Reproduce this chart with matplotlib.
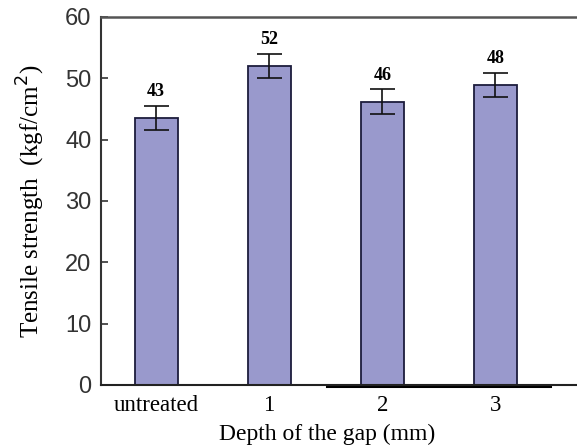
import matplotlib
matplotlib.use("Agg")
import matplotlib.pyplot as plt
import matplotlib.transforms as mtransforms
import numpy as np

# data
groups = ["untreated", "1", "2", "3"]
strength = [43.5, 52.0, 46.2, 48.9]
errors = [2.0, 2.0, 2.0, 2.0]
value_labels = ["43", "52", "46", "48"]

serif = ["Liberation Serif", "DejaVu Serif"]
sans = ["Liberation Sans", "DejaVu Sans"]

fig = plt.figure(figsize=(5.77, 4.46), dpi=100)
ax = fig.add_axes([0.175, 0.137, 0.86, 0.825])

x = np.arange(len(groups))
ax.bar(x, strength, width=0.38, color="#9999cc", edgecolor="#1c1c3c", linewidth=1.3, zorder=2)
ax.errorbar(x, strength, yerr=errors, fmt="none", ecolor="#111111",
            elinewidth=1.2, capsize=9, capthick=1.2, zorder=3)

for xi, h, e, lab in zip(x, strength, errors, value_labels):
    ax.text(xi, h + e + 0.9, lab, ha="center", va="bottom", fontsize=13,
            fontweight="bold", family=serif)

ax.set_xlim(-0.487, 3.9)
ax.set_ylim(0, 60)
ax.set_yticks([0, 10, 20, 30, 40, 50, 60])
ax.set_xticks(x)
ax.set_xticklabels(groups, family=serif, fontsize=16.5)

# the scanned tick numbers sit a little below their ticks
shift = mtransforms.ScaledTranslation(0, -5 / 100, fig.dpi_scale_trans)
for t in ax.get_yticklabels():
    t.set_family(sans)
    t.set_fontsize(17)
    t.set_color("#333333")
    t.set_transform(t.get_transform() + shift)

ax.tick_params(axis="y", direction="in", length=5, width=1.2, pad=7, colors="#333333")
ax.tick_params(axis="x", length=0, pad=7)

ax.spines["right"].set_visible(False)
ax.spines["left"].set_linewidth(1.5)
ax.spines["left"].set_color("#333333")
ax.spines["top"].set_linewidth(1.8)
ax.spines["top"].set_color("#555555")
ax.spines["bottom"].set_linewidth(1.5)
ax.spines["bottom"].set_color("#222222")

# darker stroke under part of the baseline, as in the scan
ax.plot([0.456, 0.905], [-0.004, -0.004], transform=ax.transAxes, color="black",
        linewidth=2.2, clip_on=False, zorder=1)

ax.set_xlabel("Depth of the gap (mm)", family=serif, fontsize=17, labelpad=5)
ax.xaxis.set_label_coords(0.456, -0.105)
ax.set_ylabel("Tensile strength  (kgf/cm$^2$)", family=serif, fontsize=18, labelpad=13)

fig.savefig("out.png", dpi=100)
